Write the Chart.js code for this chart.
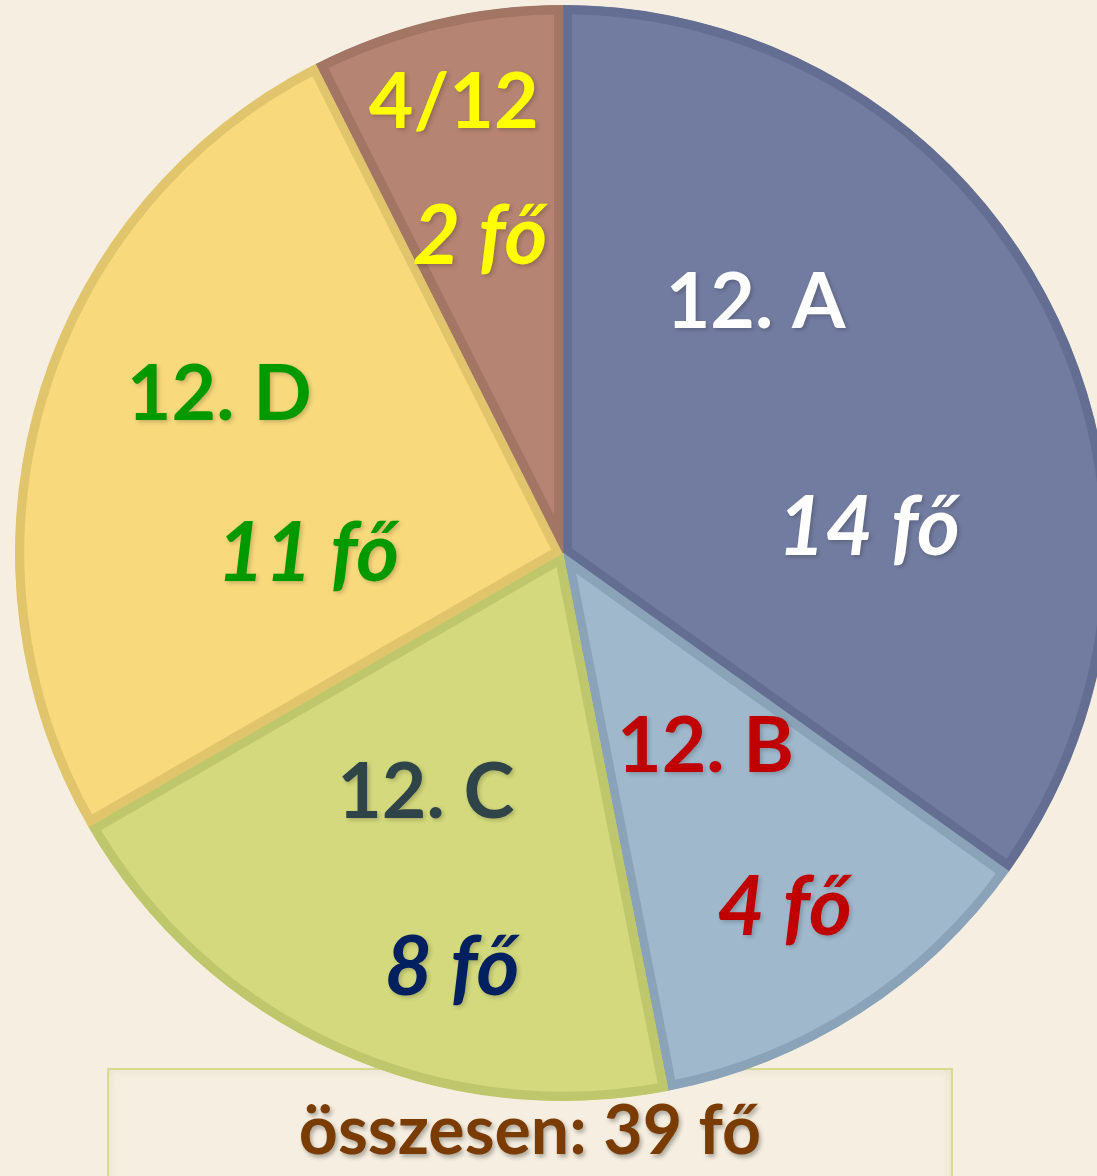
<!DOCTYPE html>
<html>
<head>
<meta charset="utf-8">
<script src="https://cdn.jsdelivr.net/npm/chart.js@4"></script>
<style>
    html, body {
        margin: 0;
        padding: 0;
        width: 1097px;
        height: 1176px;
        overflow: hidden;
        background: #f6efe1;
    }
    #chartBox {
        position: absolute;
        left: 0;
        top: 0;
        width: 1126px;
        height: 1106px;
        z-index: 1;
    }
    #total {
        position: absolute;
        left: 107px;
        top: 1068px;
        width: 846px;
        height: 140px;
        box-sizing: border-box;
        border: 2px solid #d6dc8e;
        box-shadow: inset 0 0 10px rgba(200, 190, 160, 0.35);
        z-index: 0;
        text-align: center;
        font-family: Lato, sans-serif;
        font-weight: bold;
        font-size: 68px;
        line-height: 68px;
        padding-top: 24px;
        color: #7a3c00;
        text-shadow: 2px 3px 4px rgba(0, 0, 0, 0.3);
    }
</style>
</head>
<body>
<div id="total"></div>
<div id="chartBox"><canvas id="classPie"></canvas></div>

<script>
const categories = ['12. A', '12. B', '12. C', '12. D', '4/12'];
// head count written on each slice
const students = [14, 4, 8, 11, 2];
// slice sizes as drawn in the picture (they do not follow the head count exactly)
const sliceSizes = [13.6, 4.7, 7.7, 10.1, 2.9];
const unit = 'fő';

const fillColors = ['#727ca0', '#9fb8cc', '#d3d97c', '#f8d97c', '#b58472'];
const edgeColors = ['#646e93', '#8aa3b8', '#bfc76c', '#e0c56c', '#a37564'];
const titleColors = ['#ffffff', '#c00000', '#2e4448', '#009a00', '#ffff00'];
const valueColors = ['#ffffff', '#c00000', '#002060', '#009a00', '#ffff00'];

// where the two lines sit inside each slice: [share of the angle, share of the radius]
const titleSpots = [[0.30, 0.575], [0.42, 0.44], [0.574, 0.505], [0.586, 0.69], [0.49, 0.845]];
const valueSpots = [[0.68, 0.56], [0.52, 0.765], [0.366, 0.785], [0.318, 0.465], [0.45, 0.595]];

const total = students.reduce((a, b) => a + b, 0);
document.getElementById('total').textContent = 'összesen: ' + total + ' ' + unit;

const sliceLabels = {
    id: 'sliceLabels',
    afterDatasetsDraw(chart) {
        const ctx = chart.ctx;
        const meta = chart.getDatasetMeta(0);

        meta.data.forEach(function (arc, i) {
            const p = arc.getProps(['x', 'y', 'startAngle', 'endAngle', 'outerRadius'], true);
            const spot = function (s) {
                const a = p.startAngle + s[0] * (p.endAngle - p.startAngle);
                return [p.x + Math.cos(a) * s[1] * p.outerRadius, p.y + Math.sin(a) * s[1] * p.outerRadius];
            };

            ctx.save();
            ctx.textAlign = 'center';
            ctx.textBaseline = 'middle';
            ctx.shadowColor = 'rgba(0, 0, 0, 0.2)';
            ctx.shadowBlur = 4;
            ctx.shadowOffsetX = 2;
            ctx.shadowOffsetY = 2;

            let t = spot(titleSpots[i]);
            ctx.font = 'bold 77px Lato';
            ctx.fillStyle = titleColors[i];
            ctx.fillText(categories[i], t[0], t[1]);

            let v = spot(valueSpots[i]);
            ctx.font = 'italic bold 82px Lato';
            ctx.fillStyle = valueColors[i];
            ctx.fillText(students[i] + ' ' + unit, v[0], v[1]);
            ctx.restore();
        });
    }
};

new Chart(document.getElementById('classPie'), {
    type: 'pie',
    data: {
        labels: categories,
        datasets: [{
            data: sliceSizes,
            backgroundColor: fillColors,
            borderColor: edgeColors,
            borderWidth: 9,
            borderAlign: 'inner',
            hoverOffset: 0
        }]
    },
    options: {
        responsive: true,
        maintainAspectRatio: false,
        animation: false,
        layout: {
            padding: {top: 5, bottom: 5, left: 7, right: 7}
        },
        plugins: {
            legend: {display: false},
            tooltip: {enabled: false}
        }
    },
    plugins: [sliceLabels]
});
</script>
</body>
</html>
